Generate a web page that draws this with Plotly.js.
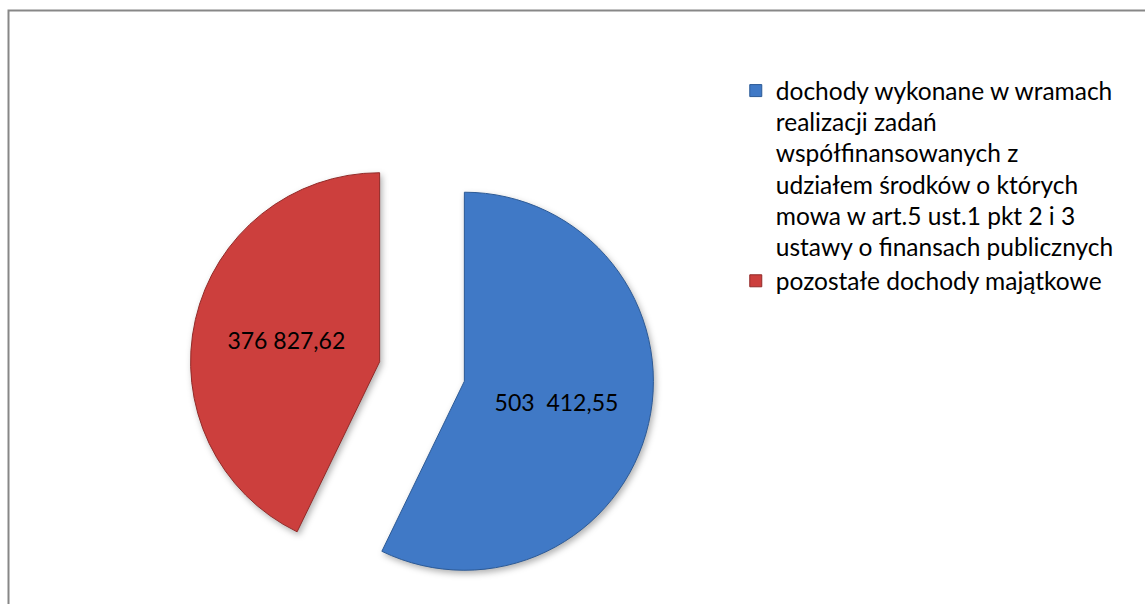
<!DOCTYPE html>
<html>
<head>
<meta charset="utf-8">
<script src="https://cdn.plot.ly/plotly-3.0.1.min.js"></script>
<style>
  html, body { margin: 0; padding: 0; background: #ffffff; }
  #chart { width: 1145px; height: 604px; }
  .pielayer .slice path.surface { filter: drop-shadow(2px 3px 3px rgba(0,0,0,0.30)); }
</style>
</head>
<body>
<div id="chart"></div>
<script>
// ---- data ----
const categoryLines = [
  ["dochody wykonane w wramach", "realizacji zadań", "współfinansowanych z",
   "udziałem środków o których", "mowa w art.5 ust.1 pkt 2 i 3", "ustawy o finansach publicznych"],
  ["pozostałe dochody majątkowe"]
];
const values = [503412.55, 376827.62];
const valueLabels = ["503  412,55", "376 827,62"];
const sliceColors = ["#4079c6", "#cc3f3d"];
const sliceEdges = ["#2c5a96", "#922a28"];

const legendLabels = categoryLines.map(lines =>
  lines.map(l => '<span style="font-size:24.5px">' + l + '</span>').join('<br>'));

const trace = {
  type: 'pie',
  labels: legendLabels,
  values: values,
  text: valueLabels,
  textinfo: 'text',
  textposition: 'inside',
  insidetextorientation: 'horizontal',
  textfont: { family: 'Lato, Carlito, sans-serif', size: 23, color: '#000000' },
  sort: false,
  direction: 'clockwise',
  rotation: 0,
  pull: [0.23, 0.23],
  marker: { colors: sliceColors, line: { color: sliceEdges, width: 1 } },
  domain: { x: [(422 - 240) / 1145, (422 + 240) / 1145], y: [0, 465 / 604] },
  hoverinfo: 'none'
};

const layout = {
  width: 1145,
  height: 604,
  margin: { l: 0, r: 0, t: 0, b: 0 },
  paper_bgcolor: '#ffffff',
  font: { family: 'Lato, Carlito, sans-serif', color: '#000000' },
  showlegend: true,
  legend: {
    x: 0.6426, xanchor: 'left',
    y: 0.8866, yanchor: 'top',
    valign: 'top',
    font: { family: 'Lato, Carlito, sans-serif', size: 24, color: '#000000' },
    bgcolor: 'rgba(0,0,0,0)',
    itemwidth: 30
  },
  shapes: [{
    type: 'rect', xref: 'paper', yref: 'paper',
    x0: 8.5 / 1145, x1: 1.2, y0: -0.2, y1: (604 - 10.5) / 604,
    line: { color: '#878787', width: 2 }, fillcolor: 'rgba(0,0,0,0)', layer: 'below'
  }]
};

Plotly.newPlot('chart', [trace], layout, { displayModeBar: false, staticPlot: true });
</script>
</body>
</html>
